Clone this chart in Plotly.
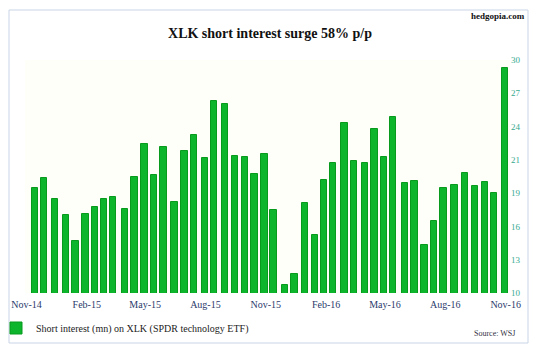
import pandas as pd
import plotly.graph_objects as go

# ---- data ----
dates = [
    "2014-11-14", "2014-11-28", "2014-12-15", "2014-12-31",
    "2015-01-15", "2015-01-30", "2015-02-13", "2015-02-27", "2015-03-13", "2015-03-31",
    "2015-04-15", "2015-04-30", "2015-05-15", "2015-05-29", "2015-06-15", "2015-06-30",
    "2015-07-15", "2015-07-31", "2015-08-14", "2015-08-31", "2015-09-15", "2015-09-30",
    "2015-10-15", "2015-10-30", "2015-11-13", "2015-11-30", "2015-12-15", "2015-12-31",
    "2016-01-15", "2016-01-29", "2016-02-12", "2016-02-29", "2016-03-15", "2016-03-31",
    "2016-04-15", "2016-04-29", "2016-05-13", "2016-05-31", "2016-06-15", "2016-06-30",
    "2016-07-15", "2016-07-29", "2016-08-15", "2016-08-31", "2016-09-15", "2016-09-30",
    "2016-10-14", "2016-10-31",
]
short_interest = [
    19.0, 19.9, 18.1, 16.7, 14.5, 16.8, 17.4, 18.1, 18.2, 17.2, 20.0, 22.8,
    20.1, 22.5, 17.8, 22.2, 23.6, 21.6, 26.5, 26.2, 21.8, 21.7, 20.2, 21.9,
    17.1, 10.7, 11.6, 17.7, 15.0, 19.7, 21.2, 24.6, 21.3, 21.2, 24.1, 21.7,
    25.1, 19.4, 19.6, 14.1, 16.2, 19.0, 19.3, 20.3, 19.2, 19.5, 18.6, 29.3,
]
y_tick_labels = ["10", "13", "16", "19", "21", "24", "27", "30"]
series_name = "Short interest (mn) on XLK (SPDR technology ETF)"
title_text = "XLK short interest surge 58% p/p"

# ---- layout helpers ----
W, H = 540, 351
ML, MR, MT, MB = 25, 30, 60, 58
pw = W - ML - MR
ph = H - MT - MB
y_min, y_max = 10, 30
y_tick_vals = [y_min + k * (y_max - y_min) / 7 for k in range(8)]

d = pd.to_datetime(dates)
span_days = (d[-1] - d[0]).days
px_per_day = 470 / span_days
x_start = d[0] - pd.Timedelta(days=10 / px_per_day)
x_end = d[-1] + pd.Timedelta(days=5 / px_per_day)
bar_w_ms = 6.3 / px_per_day * 86400000

def px_x(px):
    return (px - ML) / pw

def px_y(py):
    return (H - MB - py) / ph

serif = "Liberation Serif, Times New Roman, serif"

fig = go.Figure(
    go.Bar(
        x=d,
        y=short_interest,
        width=bar_w_ms,
        name=series_name,
        marker=dict(color="#0cb52c", line=dict(color="#079a1d", width=1)),
        showlegend=True,
    )
)

fig.update_layout(
    width=W,
    height=H,
    margin=dict(l=ML, r=MR, t=MT, b=MB, autoexpand=False),
    paper_bgcolor="white",
    plot_bgcolor="#fffff9",
    font=dict(family=serif),
    title=dict(
        text="<b>" + title_text + "</b>",
        font=dict(family=serif, size=14, color="#111111"),
        x=270 / W,
        xanchor="center",
        y=1 - 33 / H,
        yanchor="middle",
    ),
    xaxis=dict(
        type="date",
        range=[x_start, x_end],
        tick0="2014-11-01",
        dtick="M3",
        tickformat="%b-%y",
        ticks="",
        showgrid=False,
        zeroline=False,
        showline=False,
        tickfont=dict(family=serif, size=10, color="#2b3a6b"),
        ticklabelstandoff=4,
        automargin=False,
    ),
    yaxis=dict(
        side="right",
        range=[y_min, y_max],
        tickvals=y_tick_vals,
        ticktext=y_tick_labels,
        ticks="",
        showgrid=False,
        zeroline=False,
        showline=False,
        automargin=False,
        tickfont=dict(family=serif, size=9, color="#35aa8f"),
    ),
    legend=dict(
        orientation="h",
        x=px_x(-4),
        xanchor="left",
        y=px_y(328),
        yanchor="middle",
        bgcolor="rgba(0,0,0,0)",
        font=dict(family=serif, size=10, color="#222222"),
    ),
    bargap=0,
    shapes=[
        dict(
            type="rect",
            xref="paper",
            yref="paper",
            x0=px_x(9),
            x1=px_x(528),
            y0=px_y(343),
            y1=px_y(10),
            line=dict(color="#c9d4e6", width=1),
            fillcolor="rgba(0,0,0,0)",
            layer="below",
        )
    ],
    annotations=[
        dict(
            text="<b>hedgopia.com</b>",
            xref="paper",
            yref="paper",
            x=px_x(527),
            y=px_y(16),
            xanchor="right",
            yanchor="middle",
            showarrow=False,
            font=dict(family=serif, size=9, color="#111111"),
        ),
        dict(
            text="Source: WSJ",
            xref="paper",
            yref="paper",
            x=px_x(517),
            y=px_y(333),
            xanchor="right",
            yanchor="middle",
            showarrow=False,
            font=dict(family=serif, size=8, color="#333344"),
        ),
    ],
)

fig.write_html("out.html")
